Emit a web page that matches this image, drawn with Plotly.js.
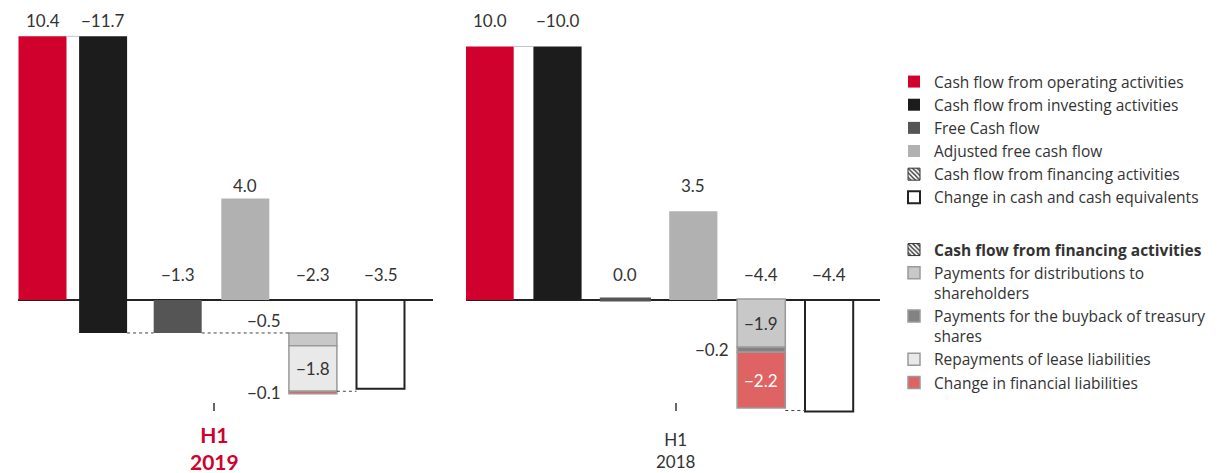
<!DOCTYPE html>
<html><head><meta charset="utf-8">
<script src="https://cdn.plot.ly/plotly-3.0.1.min.js"></script>
<style>html,body{margin:0;padding:0;background:#fff;}#chart{width:1227px;height:473px;}</style>
</head><body><div id="chart"></div>
<script>
// ---- data ----
const categories = ["Cash flow from operating activities","Cash flow from investing activities","Free Cash flow","Adjusted free cash flow","Cash flow from financing activities","Change in cash and cash equivalents"];
const periods = ["H1 2019","H1 2018"];
const periodLines = [["H1","2019"],["H1","2018"]];
const operating = [10.4, 10.0];
const investing = [-11.7, -10.0];
const freeCashFlow = [-1.3, 0.04];
const adjustedFcf = [4.0, 3.5];
const financingTotal = [-2.3, -4.4];
const changeInCash = [-3.5, -4.4];
const financingParts = ["Payments for distributions to<br>shareholders","Payments for the buyback of treasury<br>shares","Repayments of lease liabilities","Change in financial liabilities"];
const distributions = [-0.5, -1.9];
const buyback = [0, -0.2];
const leaseRepayments = [-1.8, 0];
const financialLiabilities = [-0.1, -2.2];

// ---- styles ----
const FONT = "Lato, 'Open Sans', sans-serif";
const LFONT = "'Open Sans', 'Noto Sans', sans-serif";
const TXT = "#333333";
const C = {op:"#d0022d", inv:"#1c1c1c", fcf:"#555555", adj:"#b1b1b1",
  parts:["#c8c8c8","#828282","#e9e9e9","#e06363"], partLine:"#9a9a9a", red:"#d0022d"};
const W = 0.71, H = W/2;
const invShift = [0.1036, 0];
const xa = ["x","x2"];
const partsData = [distributions, buyback, leaseRepayments, financialLiabilities];
const fmt = v => (v < -0.0499 ? "\u2212" : "") + Math.abs(v).toFixed(1);

const traces = [];
const lateTraces = [];
function addBar(p, idx, val, base, name, marker, legend, extra){
  const t = Object.assign({type:"bar", x:[idx], y:[val], base:[base], width:[W],
    xaxis:xa[p], yaxis:"y", name:name, marker:marker, legendgroup:name,
    showlegend: p===0 && !!legend, hoverinfo:"skip"}, extra||{});
  if (legend) t.legend = legend;
  (p===0 ? traces : lateTraces).push(t);
}
const hatch = {color:"#444", pattern:{shape:"\\", bgcolor:"#ffffff", fgcolor:"#333", size:4, solidity:0.45}, line:{color:"#333", width:1}};

for (let p=0; p<2; p++){
  addBar(p,0,operating[p],0,categories[0],{color:C.op,line:{width:0}},"legend");
  addBar(p,1,investing[p],operating[p],categories[1],{color:C.inv,line:{width:0}},"legend",
    {offset:[-H-invShift[p]]});
  addBar(p,2,freeCashFlow[p],0,categories[2],{color:C.fcf,line:{color:C.fcf,width:Math.abs(freeCashFlow[p])<0.1?3:0}},"legend");
  addBar(p,3,adjustedFcf[p],0,categories[3],{color:C.adj,line:{width:0}},"legend");
  if (p===0) traces.push({type:"bar",x:[null],y:[null],xaxis:"x",yaxis:"y",name:categories[4],marker:hatch,legend:"legend",showlegend:true,hoverinfo:"skip"});
  addBar(p,5,changeInCash[p],0,categories[5],{color:"#ffffff",line:{color:"#222",width:2}},"legend");
}
traces.push({type:"bar",x:[null],y:[null],xaxis:"x",yaxis:"y",name:"<b>"+categories[4]+"</b>",marker:hatch,legend:"legend2",showlegend:true,hoverinfo:"skip"});

const annotations = [];
const shapes = [];
for (let p=0; p<2; p++){
  let level = freeCashFlow[p];
  partsData.forEach((arr,k)=>{
    const v = arr[p];
    addBar(p,4,v,level,financingParts[k],{color:C.parts[k],line:{color:C.partLine,width:1.5}},"legend2");
    if (v !== 0){
      const mid = level + v/2;
      const first = level === freeCashFlow[p];
      if (Math.abs(v) >= 1){
        annotations.push({xref:xa[p],yref:"y",x:4,y:mid,xanchor:"center",text:fmt(v),showarrow:false,
          font:{size:17,color:k===3?"#ffffff":TXT}});
      } else {
        annotations.push({xref:xa[p],yref:"y",x:4-H,y:first?level:mid,xanchor:"right",
          yanchor:first?"bottom":"middle",xshift:-6,text:fmt(v),showarrow:false,font:{size:17,color:TXT}});
      }
    }
    level += v;
  });
  const invLeft = 1-H-invShift[p], invRight = invLeft+W;
  traces.push({type:"scatter",mode:"lines",xaxis:xa[p],yaxis:"y",showlegend:false,hoverinfo:"skip",
    x:[H, invLeft], y:[operating[p],operating[p]], line:{color:"#c4c4c4",width:1}});
  const lv = operating[p]+investing[p];
  if (Math.abs(lv) > 0.05){
    traces.push({type:"scatter",mode:"lines",xaxis:xa[p],yaxis:"y",showlegend:false,hoverinfo:"skip",
      x:[invRight,2-H,null,2+H,4-H], y:[lv,lv,null,lv,lv], line:{color:"#444",width:1,dash:"dot"}});
  }
  const endLv = freeCashFlow[p]+financingTotal[p];
  traces.push({type:"scatter",mode:"lines",xaxis:xa[p],yaxis:"y",showlegend:false,hoverinfo:"skip",
    x:[4+H,5-H], y:[endLv,endLv], line:{color:"#444",width:1,dash:"dot"}});

  const vals = [operating[p],investing[p],freeCashFlow[p],adjustedFcf[p],financingTotal[p],changeInCash[p]];
  const rowTop = Math.max(...operating), rowAdj = Math.max(...adjustedFcf);
  vals.forEach((v,i)=>{
    let y=0, ys=26;
    if (i<2){ y=rowTop; ys=16; } else if (i===3){ y=rowAdj; ys=13; }
    const x = i===1 ? 1-invShift[p] : i;
    annotations.push({xref:xa[p],yref:"y",x:x,y:y,yshift:ys,xanchor:"center",text:fmt(v),showarrow:false,font:{size:17,color:TXT}});
  });
}

const periodX = [214, 676];
periodLines.forEach((ln,p)=>{
  const bold = p===0;
  const px = periodX[p]/1227;
  shapes.push({type:"line",xref:"paper",yref:"paper",x0:px,x1:px,y0:1-403/473,y1:1-411/473,line:{color:"#333",width:1.5}});
  const txt = bold ? "<b>"+ln[0]+"<br>"+ln[1]+"</b>" : ln[0]+"<br>"+ln[1];
  annotations.push({xref:"paper",yref:"paper",x:px,y:1-(bold?448:450)/473,xanchor:"center",yanchor:"middle",
    text:txt,showarrow:false,font:{size:bold?21:17,color:bold?C.red:TXT}});
});

const legendBase = {xanchor:"left",yanchor:"top",bgcolor:"rgba(0,0,0,0)",font:{family:LFONT,size:15.5,color:TXT},
  traceorder:"normal",valign:"top",tracegroupgap:0,itemclick:false,itemdoubleclick:false};

const layout = {
  width:1227, height:473, margin:{l:0,r:0,t:0,b:0}, paper_bgcolor:"#fff", plot_bgcolor:"rgba(0,0,0,0)",
  font:{family:FONT,size:17,color:TXT}, barmode:"overlay", showlegend:true, hovermode:false,
  xaxis:{domain:[18/1227,433/1227],range:[(18-42.5)/67.6,(433-42.5)/67.6],visible:false,fixedrange:true},
  xaxis2:{domain:[466/1227,880/1227],range:[(466-489.6)/67.9,(880-489.6)/67.9],visible:false,anchor:"y",fixedrange:true},
  yaxis:{domain:[0,1],range:[-173/25.35,300/25.35],showgrid:false,showticklabels:false,ticks:"",showline:false,
    zeroline:true,zerolinecolor:"#222",zerolinewidth:1.5,fixedrange:true},
  legend:Object.assign({x:894/1227,y:1-65/473},legendBase),
  legend2:Object.assign({x:894/1227,y:1-233/473},legendBase),
  annotations:annotations, shapes:shapes
};
Plotly.newPlot("chart", traces.concat(lateTraces), layout, {staticPlot:true, displayModeBar:false});
</script></body></html>
